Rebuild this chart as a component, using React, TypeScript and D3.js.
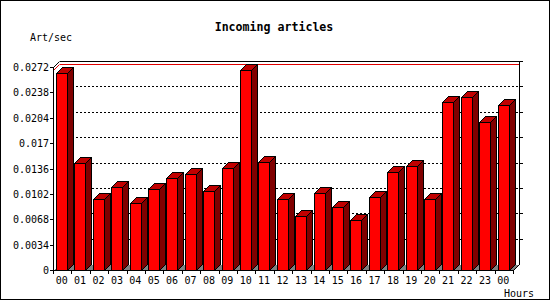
import React from "react";
import * as d3 from "d3";

const hours = ["00","01","02","03","04","05","06","07","08","09","10","11","12","13","14","15","16","17","18","19","20","21","22","23","00"];
const values = [0.02636,0.01438,0.00947,0.01108,0.00893,0.01081,0.01228,0.01286,0.01058,0.01362,0.02676,0.01443,0.00947,0.00719,0.01027,0.0084,0.00666,0.00974,0.01309,0.01394,0.00947,0.02247,0.02314,0.01979,0.02207];
const yTicks = [0,0.0034,0.0068,0.0102,0.0136,0.017,0.0204,0.0238,0.0272];
const yTickLabels = ["0","0.0034","0.0068","0.0102","0.0136","0.017","0.0204","0.0238","0.0272"];
const title = "Incoming articles";
const yTitle = "Art/sec";
const xTitle = "Hours";

const W = 550, H = 300;
const L = 53.5, R = 513.5, B = 270.5, T = 67.5;
const D = 6;
const FONT = "'DejaVu Sans Mono', monospace";

const c = (v: number) => Math.round(v - 0.5) + 0.5;

export default function App() {
  const idx = hours.map((_, i) => String(i));
  const x = d3.scaleBand<string>().domain(idx).range([L, R]).paddingInner(0).paddingOuter(0);
  const y = d3.scaleLinear().domain([0, 0.0272]).range([B, T]);
  const maxV = d3.max(values) as number;
  const ym = y(maxV);
  const bw = x.bandwidth();

  return (
    <svg width={W} height={H} style={{ position: "absolute", left: 0, top: 0, background: "#fff" }} shapeRendering="crispEdges">
      <rect x={0.5} y={0.5} width={W - 1} height={H - 1} fill="#fff" stroke="#000" />
      <text x={274} y={31} textAnchor="middle" fontFamily={FONT} fontWeight="bold" fontSize={11.6}>{title}</text>
      <text x={30} y={40.5} fontFamily={FONT} fontSize={10}>{yTitle}</text>
      {/* gridlines on back wall */}
      {yTicks.slice(1, -1).map((t, i) => (
        <line key={"g" + i} x1={L + D} x2={R + D} y1={c(y(t) - D)} y2={c(y(t) - D)} stroke="#000" strokeDasharray="2,2" />
      ))}
      {/* max line */}
      <line x1={L + D} x2={R + D} y1={c(ym - D)} y2={c(ym - D)} stroke="#e00000" />
      <line x1={L} x2={L + D} y1={c(ym)} y2={c(ym - D)} stroke="#e00000" shapeRendering="auto" />
      {/* frame */}
      <line x1={L + D} x2={R + D} y1={T - D} y2={T - D} stroke="#000" />
      <line x1={L} x2={L + D} y1={T} y2={T - D} stroke="#000" shapeRendering="auto" />
      <line x1={R + D} x2={R + D} y1={T - D} y2={B - D} stroke="#000" />
      <polygon points={`${L},${B} ${R},${B} ${R + D},${B - D} ${L + D},${B - D}`} fill="#808080" />
      <line x1={R} x2={R + D} y1={B} y2={B - D} stroke="#000" shapeRendering="auto" />
      {/* right ticks */}
      {yTicks.slice(1).map((t, i) => (
        <line key={"rt" + i} x1={R + D} x2={R + D + 3} y1={c(y(t) - D)} y2={c(y(t) - D)} stroke="#000" />
      ))}
      {/* bars */}
      {values.map((v, i) => {
        const bs = x(String(i)) as number;
        const fx = c(bs + 3);
        const fw = 11;
        const top = c(y(v));
        return (
          <g key={"b" + i} stroke="#000" strokeWidth={1}>
            <polygon points={`${fx + fw},${top} ${fx + fw + D},${top - D} ${fx + fw + D},${B - D} ${fx + fw},${B}`} fill="#800000" strokeLinejoin="miter" />
            <polygon points={`${fx},${top} ${fx + D},${top - D} ${fx + fw + D},${top - D} ${fx + fw},${top}`} fill="#c00000" />
            <rect x={fx} y={top} width={fw} height={B - top} fill="#ff0000" />
          </g>
        );
      })}
      {/* axes */}
      <line x1={L} x2={L} y1={T} y2={B} stroke="#000" />
      <line x1={L} x2={R} y1={B} y2={B} stroke="#000" />
      {yTicks.map((t, i) => (
        <g key={"yt" + i}>
          <line x1={L - 4} x2={L} y1={c(y(t))} y2={c(y(t))} stroke="#000" />
          <text x={49} y={c(y(t)) + 3.5} textAnchor="end" fontFamily={FONT} fontSize={10}>{yTickLabels[i]}</text>
        </g>
      ))}
      {hours.map((h, i) => {
        const bs = x(String(i)) as number;
        return (
          <g key={"xt" + i}>
            <line x1={c(bs)} x2={c(bs)} y1={B} y2={B + 3.5} stroke="#000" />
            <text x={bs + bw / 2 - 1} y={284} textAnchor="middle" fontFamily={FONT} fontSize={10}>{h}</text>
          </g>
        );
      })}
      <line x1={c(R)} x2={c(R)} y1={B} y2={B + 3.5} stroke="#000" />
      <text x={534} y={296.5} textAnchor="end" fontFamily={FONT} fontSize={10}>{xTitle}</text>
    </svg>
  );
}
